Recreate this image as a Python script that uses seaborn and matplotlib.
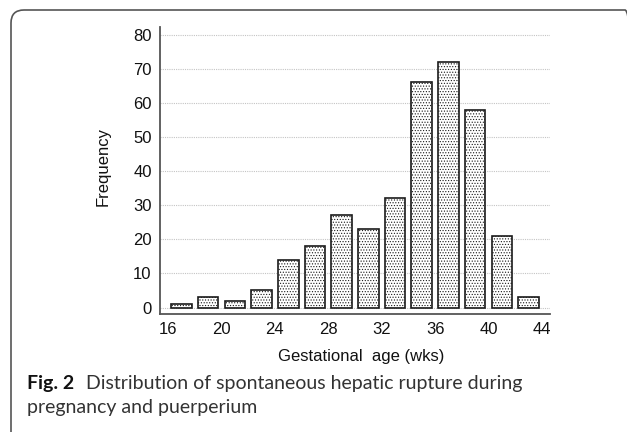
import matplotlib
matplotlib.use("Agg")
import matplotlib.pyplot as plt
import seaborn as sns
from matplotlib.patches import FancyBboxPatch
from matplotlib.transforms import IdentityTransform
from matplotlib.ticker import MultipleLocator

# Gestational age bins (2-week bins) and counts
bin_edges = [16, 18, 20, 22, 24, 26, 28, 30, 32, 34, 36, 38, 40, 42, 44]
bin_mid = [17, 19, 21, 23, 25, 27, 29, 31, 33, 35, 37, 39, 41, 43]
frequency = [1, 3, 2, 5, 14, 18, 27, 23, 32, 66, 72, 58, 21, 3]

x_ticks = [16, 20, 24, 28, 32, 36, 40, 44]
y_ticks = [0, 10, 20, 30, 40, 50, 60, 70, 80]

caption_bold = "Fig. 2"
caption_line1 = "Distribution of spontaneous hepatic rupture during"
caption_line2 = "pregnancy and puerperium"

sns.set_theme(style="white")
plt.rcParams["font.family"] = ["Liberation Sans", "DejaVu Sans"]
plt.rcParams["hatch.linewidth"] = 0.5
plt.rcParams["hatch.color"] = "#555555"

W, H = 627, 432
fig = plt.figure(figsize=(W / 100, H / 100), dpi=100)
fig.patch.set_facecolor("white")

# axes box: left 160px, right 550px, top 27px, bottom 314px
ax = fig.add_axes([160 / W, 1 - 314 / H, 390 / W, 287 / H])

sns.histplot(
    x=bin_mid,
    weights=frequency,
    bins=bin_edges,
    shrink=0.77,
    color="white",
    alpha=1,
    edgecolor="#1a1a1a",
    linewidth=1.2,
    hatch="......",
    ax=ax,
)
for p in ax.patches:
    if hasattr(p, "set_hatchcolor"):
        p.set_hatchcolor("#555555")
    p.set_zorder(3)

ax.set_xlim(15.4, 44.6)
ax.set_ylim(-1.9, 82.2)
ax.set_xticks(x_ticks)
ax.set_yticks(y_ticks)
ax.xaxis.set_minor_locator(MultipleLocator(2))
ax.yaxis.set_minor_locator(MultipleLocator(5))

ax.grid(axis="y", which="major", linestyle=(0, (1, 1)), color="#c4c4c4", linewidth=0.8)
ax.set_axisbelow(True)

for side in ["top", "right"]:
    ax.spines[side].set_visible(False)
for side in ["left", "bottom"]:
    ax.spines[side].set_color("#555555")
    ax.spines[side].set_linewidth(1.3)

ax.tick_params(axis="both", which="both", direction="in", color="#555555",
               labelsize=12, labelcolor="#111111", width=1.0)
ax.tick_params(axis="y", which="major", length=5, pad=6)
ax.tick_params(axis="y", which="minor", length=3.5)
ax.tick_params(axis="x", which="both", length=4.5, pad=6)

ax.set_xlabel("Gestational  age (wks)", fontsize=12, color="#111111")
ax.set_ylabel("Frequency", fontsize=12, color="#111111")
ax.xaxis.set_label_coords((361 - 160) / 390, -(357 - 314) / 287, transform=ax.transAxes)
ax.yaxis.set_label_coords(-(160 - 103) / 390, (314 - 167) / 287, transform=ax.transAxes)
ax.xaxis.label.set_va("center")
ax.yaxis.label.set_va("center")

# rounded frame around figure + caption
frame = FancyBboxPatch((11, -30), 627, H - 10 + 30,
                       boxstyle="round,pad=0,rounding_size=13",
                       transform=IdentityTransform(), fill=False,
                       edgecolor="#555555", linewidth=1.2)
fig.add_artist(frame)

cap_font = ["Lato", "DejaVu Sans"]
fig.text(27 / W, 1 - 389 / H, caption_bold, fontsize=14, fontweight="bold",
         family=cap_font, color="#111111", va="baseline", ha="left")
fig.text(86 / W, 1 - 389 / H, caption_line1, fontsize=14,
         family=cap_font, color="#333333", va="baseline", ha="left")
fig.text(27 / W, 1 - 413 / H, caption_line2, fontsize=14,
         family=cap_font, color="#333333", va="baseline", ha="left")

fig.savefig("out.png", dpi=100)
